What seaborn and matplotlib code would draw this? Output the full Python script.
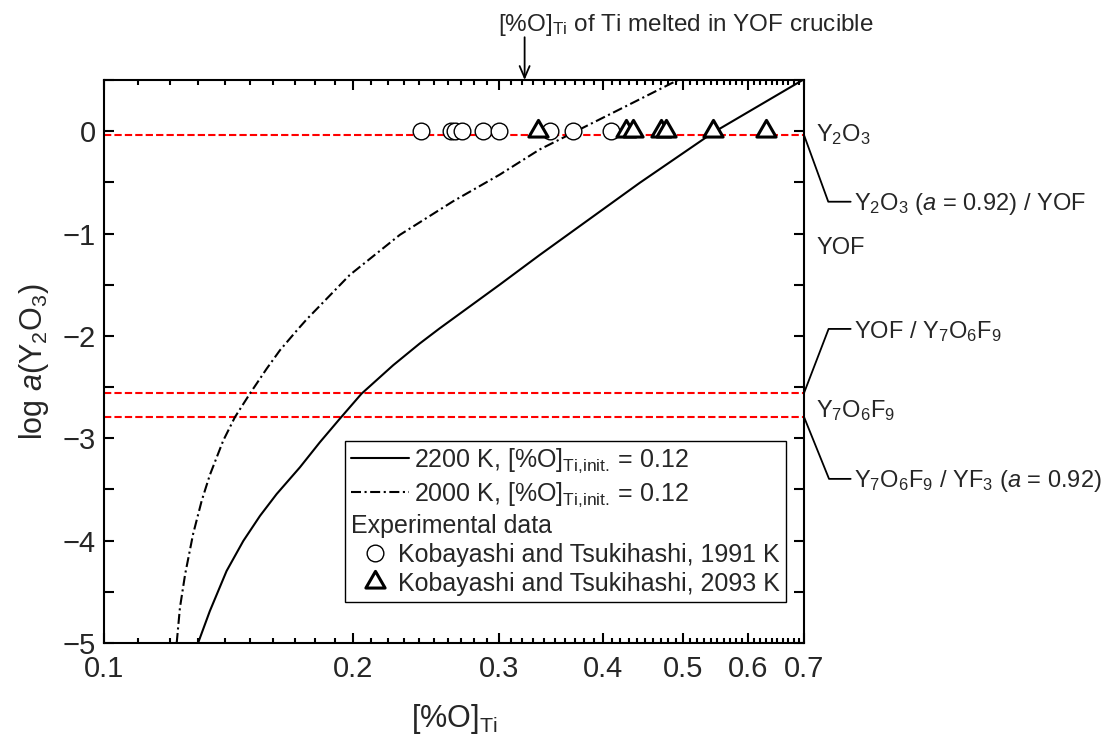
import numpy as np
import pandas as pd
import matplotlib
matplotlib.use("Agg")
import matplotlib.pyplot as plt
import seaborn as sns
from matplotlib.lines import Line2D
from matplotlib.path import Path
from matplotlib.ticker import MultipleLocator, FuncFormatter, FixedLocator, NullFormatter

# calculated curves: log a(Y2O3) against [%O]Ti
o_2200 = [0.1299, 0.1342, 0.1406, 0.1473, 0.1543, 0.1616, 0.1724, 0.1822,
          0.1926, 0.2046, 0.2234, 0.2405, 0.2542, 0.3004, 0.3357, 0.4432,
          0.5432, 0.70]
loga_2200 = [-5.0, -4.689, -4.297, -4.003, -3.758, -3.545, -3.284, -3.04,
             -2.81, -2.565, -2.287, -2.075, -1.927, -1.50, -1.21, -0.506,
             -0.016, 0.507]
o_2000 = [0.1224, 0.1235, 0.1253, 0.1281, 0.1312, 0.1342, 0.1393, 0.1439,
          0.1500, 0.1572, 0.1631, 0.1708, 0.1756, 0.1980, 0.2276, 0.2638,
          0.3004, 0.3357, 0.3682, 0.4270, 0.4952]
loga_2000 = [-5.0, -4.657, -4.329, -3.937, -3.611, -3.36, -3.023, -2.794,
             -2.565, -2.320, -2.140, -1.95, -1.84, -1.405, -1.013, -0.686,
             -0.425, -0.179, -0.016, 0.245, 0.507]

# experimental data (Kobayashi and Tsukihashi)
o_1991 = [0.2416, 0.2622, 0.2651, 0.2707, 0.2868, 0.2996, 0.3451, 0.3683, 0.4097]
loga_1991 = [0.0, 0.0, 0.0, 0.0, 0.0, 0.0, 0.0, 0.0, 0.0]
o_2093 = [0.3341, 0.4270, 0.4350, 0.4706, 0.4773, 0.5433, 0.6299]
loga_2093 = [0.0, 0.0, 0.0, 0.0, 0.0, 0.0, 0.0]

# phase boundaries and labels
boundary_loga = [-0.036, -2.56, -2.79]
boundary_labels = ["Y$_2$O$_3$ ($a$ = 0.92) / YOF",
                   "YOF / Y$_7$O$_6$F$_9$",
                   "Y$_7$O$_6$F$_9$ / YF$_3$ ($a$ = 0.92)"]
phase_labels = ["Y$_2$O$_3$", "YOF", "Y$_7$O$_6$F$_9$"]
phase_loga = [-0.03, -1.14, -2.73]
yof_crucible_o = 0.322

x_ticks = [0.1, 0.2, 0.3, 0.4, 0.5, 0.6, 0.7]

sns.set_theme(style="ticks")
plt.rcParams.update({
    "font.family": ["Liberation Sans", "DejaVu Sans"],
    "mathtext.fontset": "custom",
    "mathtext.rm": "Liberation Sans",
    "mathtext.it": "Liberation Sans:italic",
    "axes.linewidth": 1.5,
    "axes.edgecolor": "black",
})

dashdot = (0, (4.8, 1.7, 1.0, 1.7))
# equilateral triangle, centroid on the data point
tri = Path([(-1.0, -0.577), (1.0, -0.577), (0.0, 1.155), (-1.0, -0.577)], closed=True)

fig = plt.figure(figsize=(11.04, 7.36), dpi=100)
ax = fig.add_axes([0.0942, 0.1264, 0.634, 0.7649])

for yb in boundary_loga:
    ax.axhline(yb, color="#ff0000", lw=1.5, ls=(0, (3.5, 1.5)), zorder=1)

sns.lineplot(x=o_2200, y=loga_2200, ax=ax, color="black", lw=1.5, sort=False,
             legend=False, zorder=2)
sns.lineplot(x=o_2000, y=loga_2000, ax=ax, color="black", lw=1.5, sort=False,
             linestyle=dashdot, legend=False, zorder=2)
sns.scatterplot(x=o_1991, y=loga_1991, ax=ax, marker="o", s=144,
                facecolor="white", edgecolor="black", linewidth=1.0,
                legend=False, zorder=3)
sns.scatterplot(x=o_2093, y=loga_2093, ax=ax, marker=tri, s=256,
                facecolor="white", edgecolor="black", linewidth=2.2,
                legend=False, zorder=4)

ax.set_xscale("log")
ax.set_xlim(0.1, 0.7)
ax.set_ylim(-5, 0.5)
ax.xaxis.set_major_locator(FixedLocator(x_ticks))
ax.xaxis.set_minor_locator(MultipleLocator(0.01))
ax.xaxis.set_major_formatter(FuncFormatter(lambda v, p: f"{v:g}"))
ax.xaxis.set_minor_formatter(NullFormatter())
ax.yaxis.set_major_locator(MultipleLocator(1))
ax.yaxis.set_minor_locator(MultipleLocator(0.5))
ax.tick_params(which="both", direction="in", top=True, right=True,
               width=1.5, labelsize=21, pad=6, color="black")
ax.tick_params(axis="x", which="major", pad=8.5)
ax.tick_params(which="major", length=7)
ax.tick_params(axis="x", which="minor", length=3.5)
ax.tick_params(axis="y", which="minor", length=7)
for s in ax.spines.values():
    s.set_visible(True)

ax.set_xlabel("[%O]$_{\\rm Ti}$", fontsize=22, labelpad=14)
ax.set_ylabel("log $a$(Y$_2$O$_3$)", fontsize=22, labelpad=8)

# legend
handles = [
    Line2D([], [], color="black", lw=1.5),
    Line2D([], [], color="black", lw=1.5, ls=dashdot),
    Line2D([], [], alpha=0),
    Line2D([], [], ls="none", marker="o", ms=12, mfc="white", mec="black", mew=1.0),
    Line2D([], [], ls="none", marker=tri, ms=16, mfc="white", mec="black", mew=2.2),
]
labels = ["2200 K, [%O]$_{\\rm Ti{,}init.\\!}$ = 0.12",
          "2000 K, [%O]$_{\\rm Ti{,}init.\\!}$ = 0.12",
          "Experimental data",
          "Kobayashi and Tsukihashi, 1991 K",
          "Kobayashi and Tsukihashi, 2093 K"]
leg = ax.legend(handles, labels, loc="lower left", bbox_to_anchor=(0.344, 0.073),
                borderaxespad=0, fontsize=18, handlelength=2.3, handletextpad=0.2,
                labelspacing=0.2, borderpad=0.25, fancybox=False, framealpha=1,
                edgecolor="black")
leg.get_frame().set_linewidth(1.0)
rows = leg._legend_handle_box.get_children()[0].get_children()
del rows[2].get_children()[0]
for r in rows[3:]:
    r.get_children()[0].width = 30
for h in leg.legend_handles[3:]:
    h.set_xdata(np.asarray(h.get_xdata()) - 3.5)

# phase regions on the right
for lab, yl in zip(phase_labels, phase_loga):
    ax.annotate(lab, xy=(1, yl), xycoords=("axes fraction", "data"),
                xytext=(9, 0), textcoords="offset points", ha="left", va="center",
                fontsize=17, annotation_clip=False)
for lab, yb, dy, ang in zip(boundary_labels, boundary_loga, [-50, 44.5, -46.6], [-70, 69, -68]):
    ax.annotate(lab, xy=(1, yb), xycoords=("axes fraction", "data"),
                xytext=(36, dy), textcoords="offset points", ha="left", va="center",
                fontsize=17, annotation_clip=False,
                arrowprops=dict(arrowstyle="-", color="black", lw=1.3,
                                connectionstyle=f"angle,angleA=0,angleB={ang},rad=0",
                                relpos=(0, 0.6), shrinkA=0, shrinkB=0))

# YOF crucible marker on top
ax.annotate("", xy=(yof_crucible_o, 1.0), xycoords=("data", "axes fraction"),
            xytext=(yof_crucible_o, 1.076), textcoords=("data", "axes fraction"),
            annotation_clip=False,
            arrowprops=dict(arrowstyle="->,head_length=0.7,head_width=0.3",
                            color="black", lw=1.3, shrinkA=0, shrinkB=0))
ax.text(0.2987, 1.087, "[%O]$_{\\rm Ti}$ of Ti melted in YOF crucible",
        transform=ax.get_xaxis_transform(), ha="left", va="baseline", fontsize=17.5)

fig.savefig("out.png", dpi=100)
